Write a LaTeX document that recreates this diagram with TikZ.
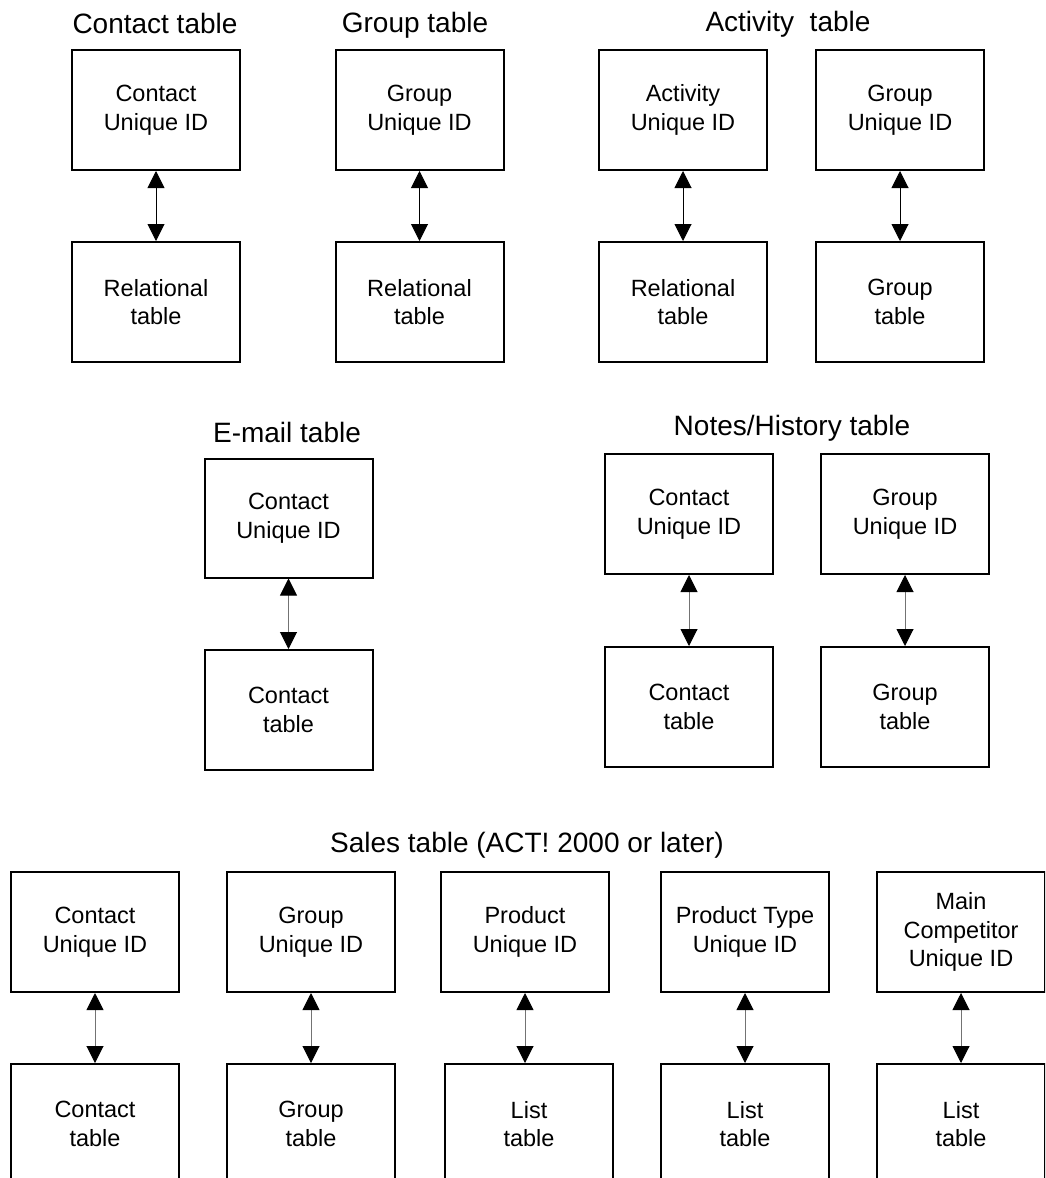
\documentclass[tikz,border=0pt]{standalone}
\usepackage{fontspec}
\setmainfont{Liberation Sans}
\usetikzlibrary{arrows.meta}
\begin{document}
\begin{tikzpicture}[x=1pt,y=-1pt,
  tbox/.style={draw, line width=2pt, minimum width=168pt, minimum height=120pt, align=center, inner sep=0pt, font=\fontsize{23.5}{28.5}\selectfont},
  ttl/.style={anchor=base, inner sep=0pt, font=\fontsize{28}{32}\selectfont},
  conn/.style={line width=1pt, {Triangle[width=17pt,length=17pt,color=black]}-{Triangle[width=17pt,length=17pt,color=black]}},
  connk/.style={conn, draw=black},
  conng/.style={conn, draw=black!55}]
\useasboundingbox (0,0) rectangle (1045,1178);
\clip (0,0) rectangle (1045,1178);

% ---- top row
\node[ttl] (t1) at (155,33) {Contact table};
\node[ttl] (t2) at (415,32) {Group table};
\node[ttl] (t3) at (788,31) {Activity\ \ table};

\node[tbox] (a1) at (156,110) {Contact\\Unique ID};
\node[tbox] (b1) at (156,302) {Relational\\table};
\node[tbox] (a2) at (419.5,110) {Group\\Unique ID};
\node[tbox] (b2) at (419.5,302) {Relational\\table};
\node[tbox] (a3) at (683,110) {Activity\\Unique ID};
\node[tbox] (b3) at (683,302) {Relational\\table};
\node[tbox] (a4) at (900,110) {Group\\Unique ID};
\node[tbox] (b4) at (900,302) {Group\\table};

\draw[connk] (a1.south) -- (b1.north);
\draw[connk] (a2.south) -- (b2.north);
\draw[connk] (a3.south) -- (b3.north);
\draw[connk] (a4.south) -- (b4.north);

% ---- middle row
\node[ttl] (t4) at (287,442) {E-mail table};
\node[ttl] (t5) at (792,435) {Notes/History table};

\node[tbox, minimum height=119pt] (c1) at (288.5,518) {Contact\\Unique ID};
\node[tbox] (d1) at (288.5,710) {Contact\\table};
\node[tbox] (c2) at (689,514) {Contact\\Unique ID};
\node[tbox] (d2) at (689,707) {Contact\\table};
\node[tbox] (c3) at (905,514) {Group\\Unique ID};
\node[tbox] (d3) at (905,707) {Group\\table};

\draw[conng] (c1.south) -- (d1.north);
\draw[conng] (c2.south) -- (d2.north);
\draw[conng] (c3.south) -- (d3.north);

% ---- bottom row
\node[ttl] (t6) at (527,852) {Sales table (ACT! 2000 or later)};

\node[tbox] (e1) at (95,932) {Contact\\Unique ID};
\node[tbox] (f1) at (95,1124) {Contact\\table};
\node[tbox] (e2) at (311,932) {Group\\Unique ID};
\node[tbox] (f2) at (311,1124) {Group\\table};
\node[tbox] (e3) at (525,932) {Product\\Unique ID};
\node[tbox] (f3) at (529,1124) {List\\table};
\node[tbox] (e4) at (745,932) {Product Type\\Unique ID};
\node[tbox] (f4) at (745,1124) {List\\table};
\node[tbox] (e5) at (961,932) {Main\\Competitor\\Unique ID};
\node[tbox] (f5) at (961,1124) {List\\table};

\draw[conng] (e1.south) -- (e1.south |- f1.north);
\draw[conng] (e2.south) -- (e2.south |- f2.north);
\draw[conng] (e3.south) -- (e3.south |- f3.north);
\draw[conng] (e4.south) -- (e4.south |- f4.north);
\draw[conng] (e5.south) -- (e5.south |- f5.north);
\end{tikzpicture}
\end{document}
